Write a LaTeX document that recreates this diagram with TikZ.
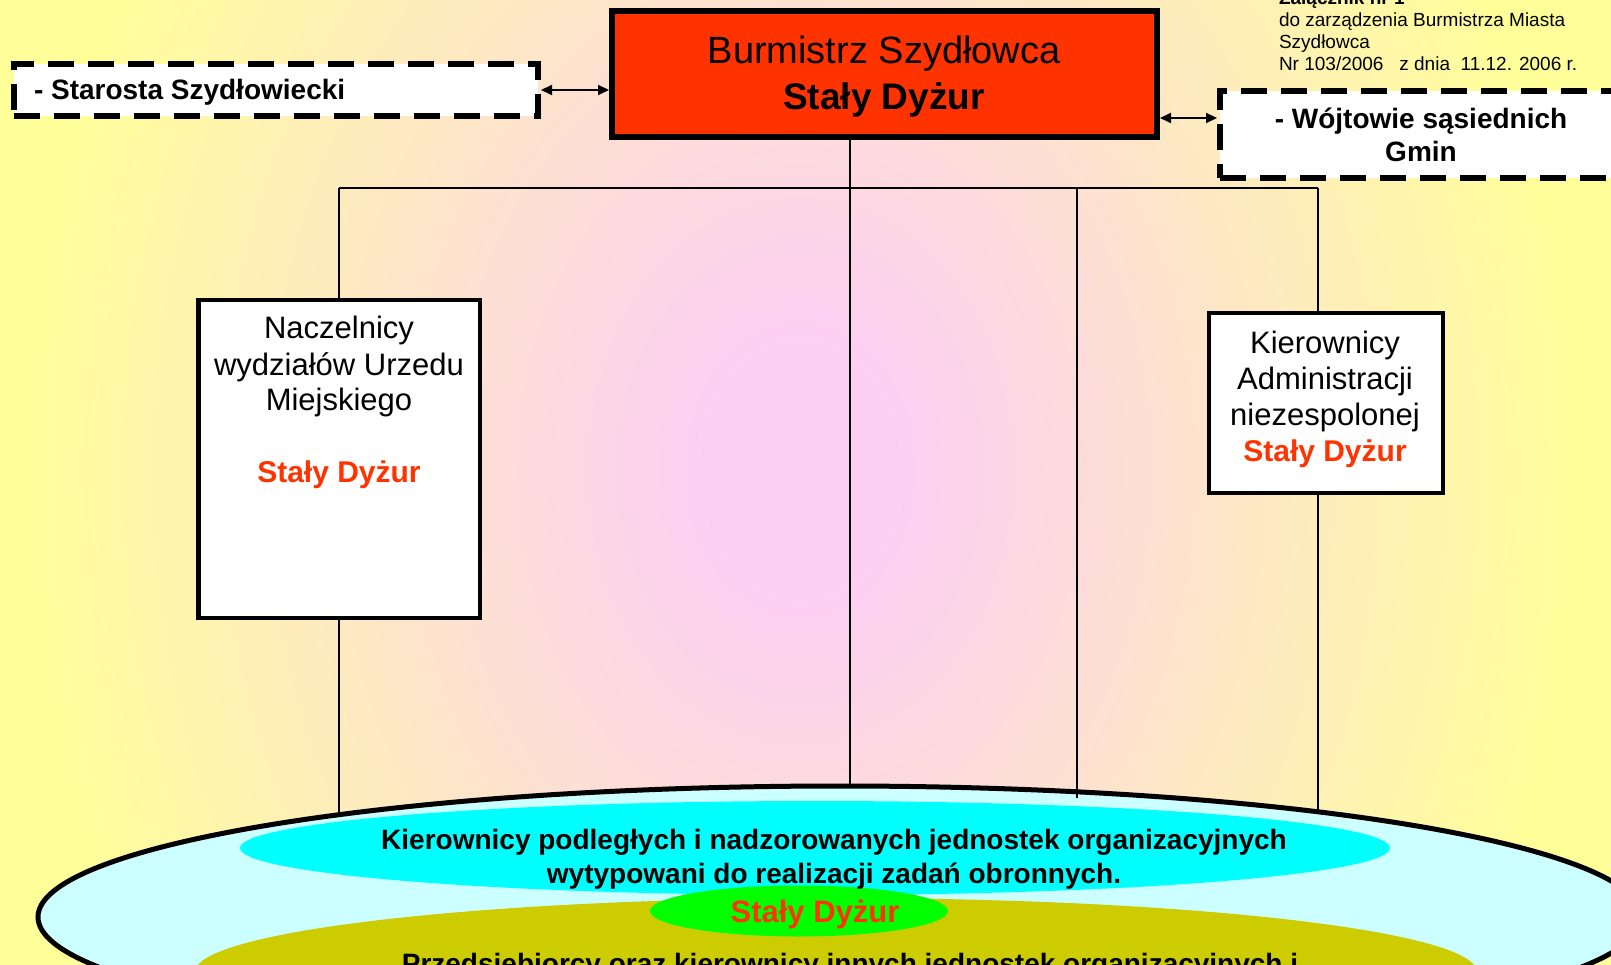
\documentclass[tikz,border=0pt]{standalone}
\usepackage{fontspec}
\setmainfont{Liberation Sans}
\usetikzlibrary{shapes.geometric,arrows.meta}
\definecolor{bgpink}{RGB}{252,206,244}
\definecolor{bgyellow}{RGB}{255,255,153}
\definecolor{redbox}{RGB}{255,51,0}
\definecolor{lightcyan}{RGB}{204,255,255}
\definecolor{cyanE}{RGB}{0,255,255}
\definecolor{greenE}{RGB}{0,255,0}
\definecolor{oliveE}{RGB}{204,204,0}
\pgfdeclareradialshading{bgshade}{\pgfpoint{0bp}{0bp}}{color(0bp)=(bgpink); color(2.6bp)=(bgpink); color(21.7bp)=(bgyellow); color(50bp)=(bgyellow)}
\newcommand{\fsz}[2]{\fontsize{#1}{#2}\selectfont}
\newcommand{\mylines}[2]{{\setlength{\tabcolsep}{0pt}\renewcommand{\arraystretch}{1}\begin{tabular}[t]{#1}#2\end{tabular}}}
\begin{document}
\begin{tikzpicture}[x=1pt,y=-1pt,
  every node/.style={inner sep=0pt,outer sep=0pt},
  thinline/.style={line width=1.4pt},
  dashbox/.style={draw,fill=white,line width=6pt,dash pattern=on 26pt off 14pt},
  solidbox/.style={draw,fill=white,line width=4.5pt},
  dblarrow/.style={line width=2pt,{Triangle[length=11pt,width=10pt]}-{Triangle[length=11pt,width=10pt]}},
  elli/.style={ellipse,draw=none},
]
\useasboundingbox (0,0) rectangle (1611,965);
\begin{scope}
\clip (0,0) rectangle (1611,965);
\shade[shading=bgshade] (-100,-682) rectangle (1700,1622);

% ellipses
\node[ellipse,draw,line width=5pt,fill=lightcyan,minimum width=1604pt,minimum height=262pt] (outer) at (840,917) {};
\node[elli,fill=cyanE,minimum width=1150pt,minimum height=94pt] (cyanell) at (815,848) {};
\node[elli,fill=oliveE,minimum width=1282pt,minimum height=148pt] (oliveell) at (836,972) {};
\node[elli,fill=greenE,minimum width=298pt,minimum height=51pt] (greenell) at (799,911) {};

\node[anchor=base] (cyantext) at (834,849) {\fsz{28}{34}\bfseries\mylines{c}{Kierownicy podległych i nadzorowanych jednostek organizacyjnych\\wytypowani do realizacji zadań obronnych.}};
\node[anchor=base] (greentext) at (815,922) {\fsz{31}{36}\bfseries\textcolor{redbox}{Stały Dyżur}};
\node[anchor=base] (olivetext) at (850,973) {\fsz{28}{34}\bfseries Przedsiębiorcy oraz kierownicy innych jednostek organizacyjnych i};

% boxes
\node[draw,fill=redbox,line width=6pt,minimum width=545pt,minimum height=126pt] (burm) at (884.5,74) {};
\node[dashbox,minimum width=524pt,minimum height=52pt] (staro) at (276,90) {};
\node[dashbox,minimum width=480pt,minimum height=87pt] (wojt) at (1460,134.5) {};
\node[solidbox,minimum width=281.5pt,minimum height=317.5pt] (nacz) at (339,459) {};
\node[solidbox,minimum width=234pt,minimum height=180pt] (kier) at (1326,403) {};

% junction coordinates
\coordinate (hL) at (339,188);
\coordinate (hM) at (1077,188);
\coordinate (hR) at (1318,188);
\coordinate (cm) at (850,786);
\coordinate (nb) at (339,815);
\coordinate (mb) at (1077,798);
\coordinate (kb) at (1318,812);
\coordinate (wa) at (1190,118);

% connectors
\draw[thinline] (hL) -- (hR);
\draw[thinline] (burm.south -| cm) -- (cm);
\draw[thinline] (hL) -- (nacz.north);
\draw[thinline] (nacz.south) -- (nb);
\draw[thinline] (hM) -- (mb);
\draw[thinline] (hR) -- (kier.north -| hR);
\draw[thinline] (kier.south -| hR) -- (kb);
\draw[dblarrow,shorten <=3pt,shorten >=3pt] (staro.east) -- (staro.east -| burm.west);
\draw[dblarrow,shorten <=3pt,shorten >=3pt] (burm.east |- wa) -- (wojt.west |- wa);

% texts
\node[anchor=base] (burmtext) at (884,64) {\fsz{38}{46}\mylines{c}{Burmistrz Szydłowca\\\fsz{37}{46}\bfseries Stały Dyżur}};
\node[anchor=base west] (starotext) at (34,100) {\fsz{28}{33}\bfseries - Starosta Szydłowiecki};
\node[anchor=base] (wojttext) at (1421,129) {\fsz{28}{33}\bfseries\mylines{c}{- Wójtowie sąsiednich\\Gmin}};
\node[anchor=base] (nacztext) at (339,339) {\fsz{31}{36}\mylines{c}{Naczelnicy\\wydziałów Urzedu\\Miejskiego\\ \\\fsz{30}{36}\bfseries\textcolor{redbox}{Stały Dyżur}}};
\node[anchor=base] (kiertext) at (1325,353) {\fsz{31}{36}\mylines{c}{Kierownicy\\Administracji\\niezespolonej\\\fsz{30}{36}\bfseries\textcolor{redbox}{Stały Dyżur}}};
\node[anchor=base west] (note) at (1279,5) {\fsz{19}{22}\mylines{l}{\bfseries Załącznik nr 1\\do zarządzenia Burmistrza Miasta\\Szydłowca\\Nr 103/2006\ \ \ z dnia\ \ 11.12. 2006 r.}};
\end{scope}
\end{tikzpicture}
\end{document}
